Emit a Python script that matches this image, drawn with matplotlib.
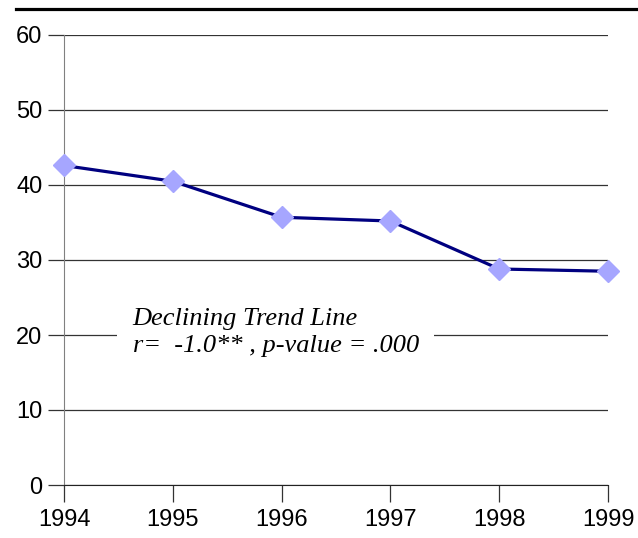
import matplotlib.pyplot as plt
from matplotlib.lines import Line2D

years = [1994, 1995, 1996, 1997, 1998, 1999]
values = [42.6, 40.5, 35.7, 35.2, 28.8, 28.5]
yticks = [0, 10, 20, 30, 40, 50, 60]
note = "Declining Trend Line\nr=  -1.0** , p-value = .000"

fig = plt.figure(figsize=(6.38, 5.38), dpi=100)
ax = fig.add_axes([64/638, 53/538, 544/638, 450/538])

ax.plot(years, values, color='#000080', lw=2.3, marker='D', ms=11.5,
        mfc='#a6a6ff', mec='#a6a6ff', zorder=3, clip_on=False)

ax.set_xlim(1994, 1999)
ax.set_ylim(0, 60)
ax.set_xticks(years)
ax.set_yticks(yticks)
ax.yaxis.grid(True, color='#333333', lw=0.9)
ax.set_axisbelow(True)

for s in ['top', 'right']:
    ax.spines[s].set_visible(False)
ax.spines['left'].set_color('#808080')
ax.spines['bottom'].set_color('#222222')
ax.tick_params(axis='y', length=11.5, color='#333333', width=0.9,
               labelsize=17, pad=4)
ax.tick_params(axis='x', length=12, color='#333333', width=0.9,
               labelsize=17, pad=5)
for lab in ax.get_xticklabels() + ax.get_yticklabels():
    lab.set_fontfamily('Liberation Sans')

ax.text(1994.63, 20.3, note, fontsize=19, style='italic',
        family='Liberation Serif', va='center', ha='left', linespacing=1.3,
        bbox=dict(facecolor='white', edgecolor='none', pad=11), zorder=2)

fig.add_artist(Line2D([16/638, 1], [529/538, 529/538], color='black', lw=2.3))

fig.savefig('out.png', dpi=100)
